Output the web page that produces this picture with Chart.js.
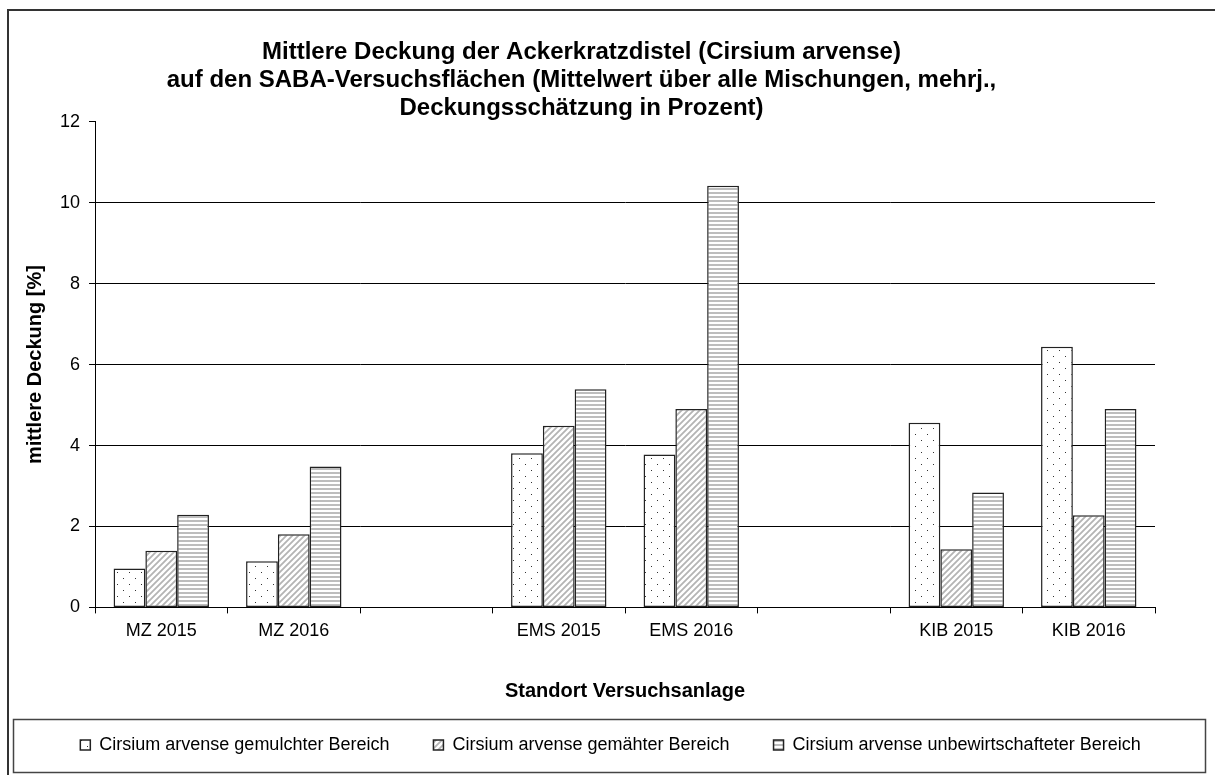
<!DOCTYPE html>
<html>
<head>
<meta charset="utf-8">
<title>Mittlere Deckung der Ackerkratzdistel</title>
<script src="https://cdn.jsdelivr.net/npm/chart.js@4.4.1/dist/chart.umd.min.js"></script>
<style>
    html, body { margin: 0; padding: 0; background: #fff; }
    #wrap { width: 1215px; height: 775px; position: relative; }
</style>
</head>
<body>
<div id="wrap"><canvas id="deckungChart"></canvas></div>
<script>
// Standorte (leere Kategorien als Abstand zwischen den Anlagen)
const standorte = ['MZ 2015', 'MZ 2016', '', 'EMS 2015', 'EMS 2016', '', 'KIB 2015', 'KIB 2016'];

// mittlere Deckung in Prozent
const gemulcht = [0.96, 1.14, null, 3.81, 3.78, null, 4.56, 6.44];
const gemaeht = [1.40, 1.81, null, 4.49, 4.90, null, 1.44, 2.28];
const unbewirtschaftet = [2.29, 3.48, null, 5.39, 10.42, null, 2.84, 4.90];

const serienNamen = [
    'Cirsium arvense gemulchter Bereich',
    'Cirsium arvense gemähter Bereich',
    'Cirsium arvense unbewirtschafteter Bereich'
];

const yTicks = [0, 2, 4, 6, 8, 10, 12];

const FONT = "'Liberation Sans', Arial, sans-serif";

function makePattern(kind) {
    const c = document.createElement('canvas');
    const g = c.getContext('2d');
    if (kind === 'dots') {
        c.width = 12; c.height = 12;
        g.fillStyle = '#fff';
        g.fillRect(0, 0, 12, 12);
        g.fillStyle = '#333';
        g.fillRect(3, 2, 1, 1);
        g.fillRect(9, 8, 1, 1);
    } else if (kind === 'diag') {
        c.width = 6; c.height = 6;
        g.fillStyle = '#fff';
        g.fillRect(0, 0, 6, 6);
        g.strokeStyle = '#b4b4b4';
        g.lineWidth = 1.8;
        g.beginPath();
        g.moveTo(-1, 7); g.lineTo(7, -1);
        g.moveTo(-4, 4); g.lineTo(4, -4);
        g.moveTo(2, 10); g.lineTo(10, 2);
        g.stroke();
    } else {
        c.width = 4; c.height = 4;
        g.fillStyle = '#fff';
        g.fillRect(0, 0, 4, 4);
        g.fillStyle = '#bdbdbd';
        g.fillRect(0, 0, 4, 2);
    }
    return g.createPattern(c, 'repeat');
}

// weisser Hintergrund, Rahmen und Kasten um die Legende
const framePlugin = {
    id: 'frame',
    afterLayout(chart) {
        const lg = chart.legend;
        lg.left += 33;
        lg.right += 33;
        lg.top -= 11;
        lg.bottom -= 11;
        chart.titleBlock.left += 4;
        chart.titleBlock.right += 4;
    },
    beforeDraw(chart) {
        const ctx = chart.ctx;
        ctx.save();
        ctx.fillStyle = '#fff';
        ctx.fillRect(0, 0, chart.width, chart.height);
        ctx.restore();
    },
    afterDraw(chart) {
        const ctx = chart.ctx;
        ctx.save();
        ctx.strokeStyle = '#333';
        ctx.lineWidth = 2;
        ctx.beginPath();
        ctx.moveTo(8, chart.height + 2);
        ctx.lineTo(8, 10);
        ctx.lineTo(chart.width + 2, 10);
        ctx.stroke();
        ctx.strokeStyle = '#444';
        ctx.lineWidth = 1.5;
        ctx.strokeRect(13.5, 719.5, 1192, 53);
        ctx.restore();
    }
};

const ctx = document.getElementById('deckungChart').getContext('2d');

const muster = [makePattern('dots'), makePattern('diag'), makePattern('horiz')];
const werte = [gemulcht, gemaeht, unbewirtschaftet];

const deckungChart = new Chart(ctx, {
    type: 'bar',
    data: {
        labels: standorte,
        datasets: werte.map((w, i) => ({
            label: serienNamen[i],
            data: w,
            backgroundColor: muster[i],
            borderColor: '#222',
            borderWidth: 1.5,
            borderSkipped: false,
            categoryPercentage: 0.72,
            barPercentage: 1.0
        }))
    },
    options: {
        responsive: true,
        maintainAspectRatio: false,
        animation: false,
        layout: {
            padding: { left: 0, right: 60, top: 0, bottom: 0 }
        },
        plugins: {
            title: {
                display: true,
                text: [
                    'Mittlere Deckung der Ackerkratzdistel (Cirsium arvense)',
                    'auf den SABA-Versuchsflächen (Mittelwert über alle Mischungen, mehrj.,',
                    'Deckungsschätzung in Prozent)'
                ],
                color: '#000',
                font: { family: FONT, size: 24, weight: 'bold', lineHeight: 1.15 },
                padding: { top: 39, bottom: 0 }
            },
            legend: {
                position: 'bottom',
                labels: {
                    color: '#000',
                    font: { family: FONT, size: 18 },
                    boxWidth: 10,
                    boxHeight: 10,
                    padding: 44
                }
            },
            tooltip: { enabled: false }
        },
        scales: {
            x: {
                grid: {
                    offset: true,
                    drawOnChartArea: false,
                    drawTicks: true,
                    tickLength: 6,
                    color: '#000'
                },
                border: { display: true, color: '#000', width: 1 },
                ticks: {
                    color: '#000',
                    font: { family: FONT, size: 18 },
                    padding: 7,
                    maxRotation: 0,
                    autoSkip: false
                },
                title: {
                    display: true,
                    text: 'Standort Versuchsanlage',
                    color: '#000',
                    font: { family: FONT, size: 20, weight: 'bold' },
                    padding: { top: 30, bottom: 0 }
                }
            },
            y: {
                min: 0,
                max: 12,
                afterBuildTicks(scale) {
                    scale.ticks = yTicks.map(v => ({ value: v }));
                },
                grid: {
                    color: c => (c.tick && c.tick.value === 12) ? 'rgba(0,0,0,0)' : '#000',
                    tickColor: '#000',
                    tickLength: 6,
                    lineWidth: 1
                },
                border: { display: true, color: '#000', width: 1 },
                ticks: {
                    color: '#000',
                    font: { family: FONT, size: 18 },
                    padding: 9
                },
                title: {
                    display: true,
                    text: 'mittlere Deckung [%]',
                    color: '#000',
                    font: { family: FONT, size: 20, weight: 'bold' },
                    padding: { top: 23, bottom: 4 }
                }
            }
        }
    },
    plugins: [framePlugin]
});
</script>
</body>
</html>
